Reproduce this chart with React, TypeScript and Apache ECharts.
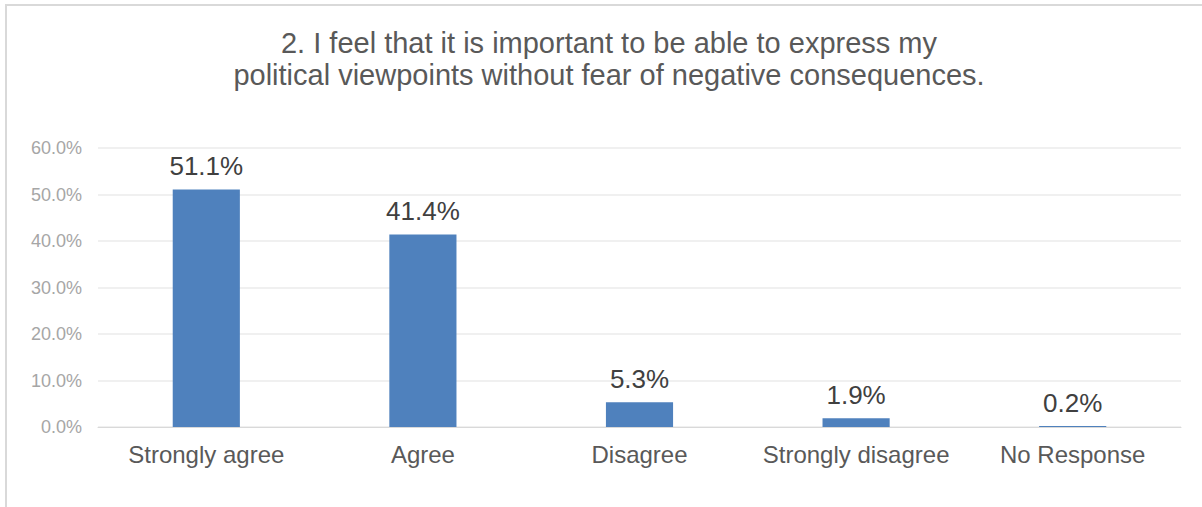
import React, { useEffect, useRef } from "react";
import * as echarts from "echarts";

const categories = ["Strongly agree", "Agree", "Disagree", "Strongly disagree", "No Response"];
const values = [51.1, 41.4, 5.3, 1.9, 0.2];
const titleText = "2. I feel that it is important to be able to express my\npolitical viewpoints without fear of negative consequences.";

const FONT = "Liberation Sans, Arial, sans-serif";

export default function App() {
  const ref = useRef<HTMLDivElement>(null);
  useEffect(() => {
    const chart = echarts.init(ref.current!, null, { renderer: "svg" });
    chart.setOption({
      animation: false,
      backgroundColor: "#ffffff",
      graphic: [
        {
          type: "rect",
          shape: { x: 6, y: 5, width: 1220, height: 530 },
          style: { fill: "none", stroke: "#D9D9D9", lineWidth: 2 },
          silent: true,
        },
        {
          type: "text",
          x: 609,
          y: 27,
          style: {
            text: titleText,
            fontFamily: FONT,
            fontSize: 29,
            lineHeight: 32,
            fill: "#595959",
            align: "center",
            verticalAlign: "top",
          },
          silent: true,
        },
      ],
      grid: { left: 98, right: 21, top: 148, bottom: 80 },
      xAxis: {
        type: "category",
        data: categories,
        axisLine: { show: true, lineStyle: { color: "#D9D9D9", width: 1 } },
        axisTick: { show: false },
        axisLabel: {
          interval: 0,
          hideOverlap: false,
          margin: 15,
          fontFamily: FONT,
          fontSize: 24,
          color: "#595959",
        },
      },
      yAxis: {
        type: "value",
        min: 0,
        max: 60,
        interval: 10,
        axisLine: { show: false },
        axisTick: { show: false },
        splitLine: { lineStyle: { color: "#EBEBEB", width: 1.5 } },
        axisLabel: {
          margin: 16,
          fontFamily: FONT,
          fontSize: 18,
          color: "#A6A6A6",
          formatter: (v: number) => v.toFixed(1) + "%",
        },
      },
      series: [
        {
          type: "bar",
          data: values,
          barWidth: "31%",
          itemStyle: { color: "#4F81BD" },
          label: {
            show: true,
            position: "top",
            distance: 10,
            fontFamily: FONT,
            fontSize: 26,
            color: "#404040",
            formatter: (p: any) => p.value.toFixed(1) + "%",
          },
        },
      ],
    });
    return () => chart.dispose();
  }, []);
  return (
    <div
      ref={ref}
      style={{ position: "absolute", left: 0, top: 0, width: 1202, height: 507 }}
    />
  );
}
